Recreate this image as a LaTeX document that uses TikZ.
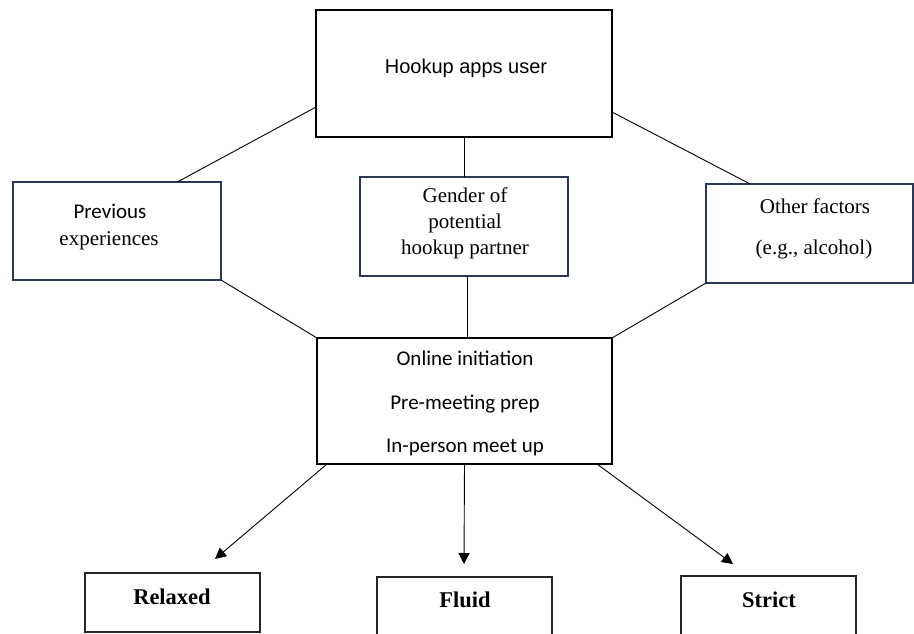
\documentclass[tikz,border=0pt]{standalone}
\usepackage{fontspec}
\newfontfamily\arialf{Liberation Sans}
\newfontfamily\calf{Carlito}
\newfontfamily\timesf{Liberation Serif}
\usetikzlibrary{calc,arrows.meta}
\definecolor{navy}{RGB}{44,56,88}
\begin{document}
\begin{tikzpicture}[x=1pt,y=-1pt,
  box/.style={draw=black,line width=1.8pt,rectangle,inner sep=0pt,outer sep=0pt},
  sidebox/.style={draw=navy,line width=1.8pt,rectangle,inner sep=0pt,outer sep=0pt},
  outbox/.style={draw=black!85,line width=1.4pt,rectangle,inner sep=0pt,outer sep=0pt},
  conn/.style={draw=black,line width=0.9pt},
  arr/.style={draw=black,line width=0.9pt,-{Triangle[length=11pt,width=11pt]}},
  txt/.style={anchor=base,inner sep=0pt},
  sz/.style={font=\fontsize{21}{25}\selectfont},
]
\clip (0,0) rectangle (914,634);
\fill[white] (0,0) rectangle (914,634);
% boxes
\node[box,minimum width=296pt,minimum height=127pt] (top) at (464,73.5) {};
\node[sidebox,minimum width=208pt,minimum height=98pt] (prev) at (117,231) {};
\node[sidebox,minimum width=208pt,minimum height=99pt] (gender) at (464,226.5) {};
\node[sidebox,minimum width=207pt,minimum height=99pt] (other) at (809.5,233.5) {};
\node[box,minimum width=295pt,minimum height=126pt] (ctr) at (464.5,401) {};
\node[outbox,minimum width=175pt,minimum height=59pt] (relaxed) at (172.5,602.5) {};
\node[outbox,minimum width=175pt,minimum height=66pt] (fluid) at (464.5,610) {};
\node[outbox,minimum width=175pt,minimum height=68pt] (strict) at (768.5,610) {};
% texts
\node[txt,font=\arialf\fontsize{20}{24}\selectfont] (t1) at (466,74) {Hookup apps user};
\node[txt,font=\calf\fontsize{21}{25}\selectfont] (t2) at (110,218) {Previous};
\node[txt,font=\timesf\fontsize{21}{25}\selectfont] (t3) at (109,245) {experiences};
\node[txt,font=\timesf\fontsize{21}{25}\selectfont] (t4) at (465,202) {Gender of};
\node[txt,font=\timesf\fontsize{21}{25}\selectfont] (t5) at (465,228) {potential};
\node[txt,font=\timesf\fontsize{21}{25}\selectfont] (t6) at (465,254) {hookup partner};
\node[txt,font=\timesf\fontsize{21}{25}\selectfont] (t7) at (815,213) {Other factors};
\node[txt,font=\timesf\fontsize{21}{25}\selectfont] (t8) at (814,254) {(e.g., alcohol)};
\node[txt,font=\calf\fontsize{21}{25}\selectfont] (t9) at (465,365) {Online initiation};
\node[txt,font=\calf\fontsize{21}{25}\selectfont] (t10) at (465,409) {Pre-meeting prep};
\node[txt,font=\calf\fontsize{21}{25}\selectfont] (t11) at (465,452) {In-person meet up};
\node[txt,font=\timesf\bfseries\fontsize{22.5}{26}\selectfont] (t12) at (172,604) {Relaxed};
\node[txt,font=\timesf\bfseries\fontsize{22.5}{26}\selectfont] (t13) at (465,607) {Fluid};
\node[txt,font=\timesf\bfseries\fontsize{22.5}{26}\selectfont] (t14) at (769,607) {Strict};
% connectors
\draw[conn] ($(top.north west)!0.764!(top.south west)$) -- ($(prev.north west)!0.79!(prev.north east)$);
\draw[conn] (top.south) -- (gender.north);
\draw[conn] ($(top.north east)!0.803!(top.south east)$) -- ($(other.north west)!0.213!(other.north east)$);
\draw[conn] (prev.south east) -- (ctr.north west);
\draw[conn] ($(gender.south)+(3,0)$) -- ($(ctr.north)+(2.5,0)$);
\draw[conn] (other.south west) -- (ctr.north east);
% arrows
\coordinate (tipR) at (215,559);
\coordinate (tipF) at (464,564);
\coordinate (tipS) at (733,564);
\draw[arr] ($(ctr.south west)!0.034!(ctr.south east)$) -- (tipR);
\draw[arr] (ctr.south) -- (tipF);
\draw[arr] ($(ctr.south west)!0.949!(ctr.south east)$) -- (tipS);
\end{tikzpicture}
\end{document}
